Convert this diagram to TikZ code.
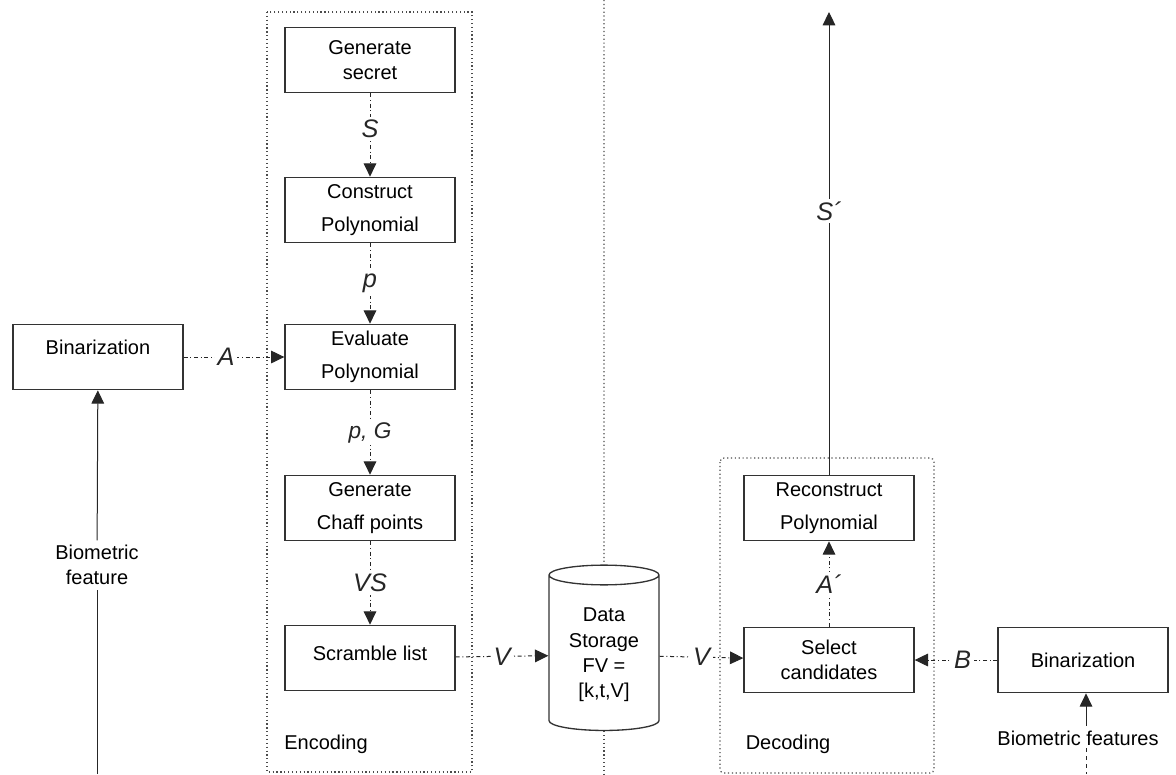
\documentclass[tikz,border=0pt]{standalone}
\usepackage{fontspec}
\setmainfont{Liberation Sans}
\usetikzlibrary{arrows.meta,shapes.geometric}

\tikzset{
  stepbox/.style={draw=black!80, line width=1pt, minimum width=127.5pt, minimum height=49pt, align=center, font=\fontsize{15}{19}\selectfont},
  plain/.style={align=center, font=\fontsize{15}{19}\selectfont},
  flow/.style={-{Triangle[length=10pt,width=9.5pt]}, black!85, line width=0.75pt, dash dot},
  feed/.style={-{Triangle[length=10pt,width=9.5pt]}, black!85, line width=0.75pt},
  lbl/.style={fill=white, inner sep=2pt, font=\fontsize{19}{22}\selectfont\itshape},
  group/.style={dotted, black!70, line width=0.9pt},
}

\begin{document}
\begin{tikzpicture}[x=0.75pt, y=-0.75pt]
  \useasboundingbox (0,0) rectangle (1176,774);
  % dotted groups and divider
  \draw[group] (267,12) rectangle (472,772);
  \draw[group, rounded corners=3pt] (720,458) rectangle (934,773);
  % encoding
  \node[stepbox] (gen) at (370,60) {Generate\\secret};
  \node[stepbox] (con) at (370,210) {Construct\\[6pt]Polynomial};
  \node[stepbox] (eva) at (370,357) {Evaluate\\[6pt]Polynomial};
  \node[stepbox] (chf) at (370,508) {Generate\\[6pt]Chaff points};
  \node[stepbox, text height=11pt, text depth=8pt] (scr) at (370,658) {Scramble list};
  \node[plain] (enc) at (326,744) {Encoding};
  % enrolment input
  \node[stepbox, text height=11pt, text depth=15pt] (binl) at (98,357) {Binarization};
  \node[plain, fill=white] (bfl) at (97,565) {Biometric\\feature};
  \coordinate (bfl0) at (97,774);
  % storage
  \node[draw=black!80, line width=1pt, cylinder, shape border rotate=90, aspect=0.25,
        minimum width=82.5pt, minimum height=124pt, plain] (db) at (604,655)
        {Data\\Storage\\FV =\\{[k,t,V]}};
  \draw[group] (604,0) -- (db.north);
  \draw[group] (db.south) -- (604,774);
  % decoding
  \node[stepbox] (sel) at (829,660) {Select\\candidates};
  \node[stepbox] (rec) at (829,508) {Reconstruct\\[6pt]Polynomial};
  \node[plain] (dec) at (788,744) {Decoding};
  \node[stepbox] (binr) at (1083,660) {Binarization};
  \node[plain] (bfr) at (1078,738) {Biometric features};
  \coordinate (bfr0) at (1086,774);
  \coordinate (out) at (829,12);
  % connectors
  \draw[flow] (gen) -- node[lbl, pos=0.42] {S} (con);
  \draw[flow] (con) -- node[lbl] {p} (eva);
  \draw[flow] (eva) -- node[lbl, font=\fontsize{17}{20}\selectfont\itshape] {p, G} (chf);
  \draw[flow] (chf) -- node[lbl] {VS} (scr);
  \draw[flow] (binl) -- node[lbl, pos=0.42] {A} (eva);
  \draw[black!85, line width=0.75pt] (bfl0) -- (bfl);
  \draw[feed] (bfl) -- (binl);
  \draw[flow] (scr) -- node[lbl] {V} (db);
  \draw[flow] (db) -- node[lbl] {V} (sel);
  \draw[flow] (binr) -- node[lbl, pos=0.42] {B} (sel);
  \draw[flow] (sel) -- node[lbl] {A´} (rec);
  \draw[feed] (rec) -- node[lbl, pos=0.57] {S´} (out);
  \draw[black!85, line width=0.75pt, dashed] (bfr0 |- bfr.south) ++(0,-2) -- (bfr0);
  \draw[feed] (bfr0 |- bfr.north) -- (bfr0 |- binr.south);
\end{tikzpicture}
\end{document}
